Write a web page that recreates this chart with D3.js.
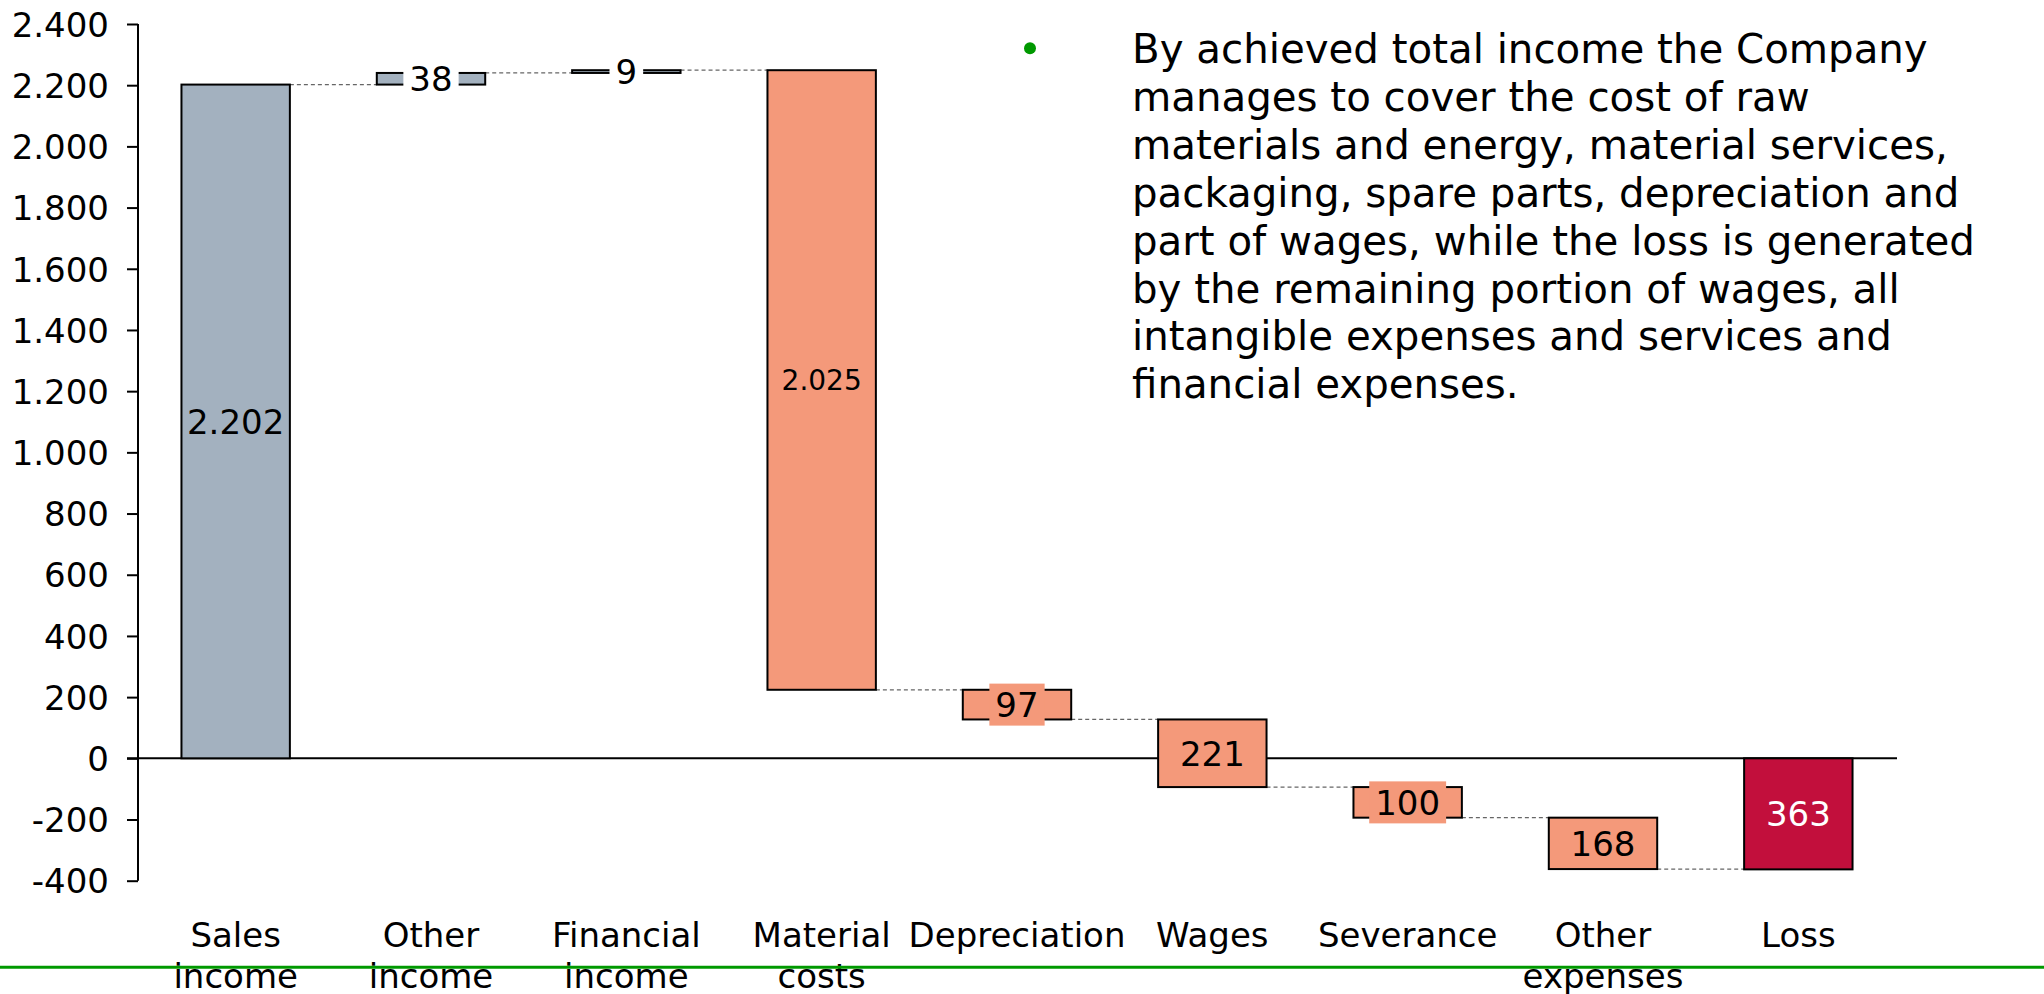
<!DOCTYPE html>
<html>
<head>
<meta charset="utf-8">
<script src="https://cdn.jsdelivr.net/npm/d3@7/dist/d3.min.js"></script>
<style>
  html, body { margin: 0; padding: 0; background: #fff; }
  svg { display: block; }
  text { font-family: "DejaVu Sans", Verdana, sans-serif; }
</style>
</head>
<body>
<svg id="chart" width="2044" height="994"></svg>
<script>
// ---- data ----
const categories = ["Sales income", "Other income", "Financial income", "Material costs",
  "Depreciation", "Wages", "Severance", "Other expenses", "Loss"];
const values = [2202, 38, 9, -2025, -97, -221, -100, -168, -363];
const kinds = ["total", "delta", "delta", "delta", "delta", "delta", "delta", "delta", "total"];
const yTicks = [-400, -200, 0, 200, 400, 600, 800, 1000, 1200, 1400, 1600, 1800, 2000, 2200, 2400];
const noteLines = [
  "By achieved total income the Company",
  "manages to cover the cost of raw",
  "materials and energy, material services,",
  "packaging, spare parts, depreciation and",
  "part of wages, while the loss is generated",
  "by the remaining portion of wages, all",
  "intangible expenses and services and",
  "financial expenses."
];

// ---- styles ----
const fills = ["#a3b1bf", "#a3b1bf", "#a3b1bf", "#f4997a", "#f4997a", "#f4997a", "#f4997a", "#f4997a", "#c20f3c"];
const labelBg = ["none", "#ffffff", "#ffffff", "none", "#f4997a", "none", "#f4997a", "none", "none"];
const labelColor = ["#000", "#000", "#000", "#000", "#000", "#000", "#000", "#000", "#fff"];
const labelSize = [34, 34, 34, 28, 34, 34, 34, 34, 34];
const labelFamily = ["DejaVu Sans", "DejaVu Sans", "DejaVu Sans", "DejaVu Sans Condensed", "DejaVu Sans",
  "DejaVu Sans", "DejaVu Sans", "DejaVu Sans", "DejaVu Sans"];

const loc = d3.formatLocale({ decimal: ",", thousands: ".", grouping: [3], currency: ["", ""], minus: "-" });
const fmt = loc.format(",d");

const svg = d3.select("#chart");

// waterfall segments
let run = 0;
const segs = values.map((v, i) => {
  let y0, y1;
  if (kinds[i] === "total") { y0 = 0; y1 = v; run = v; }
  else { y0 = run; y1 = run + v; run = y1; }
  return { cat: categories[i], v, y0, y1, i };
});

const x = d3.scaleBand().domain(categories).range([138, 1896]).paddingInner(0.445).paddingOuter(0.2225);
const y = d3.scaleLinear().domain([-400, 2400]).range([880.7, 24]);

// y axis
const yAxis = d3.axisLeft(y).tickValues(yTicks).tickFormat(fmt).tickSize(11).tickPadding(18);
const gy = svg.append("g").attr("transform", "translate(138,0)").call(yAxis);
gy.select(".domain").attr("stroke", "#000").attr("stroke-width", 2).attr("d", `M0,${y(2400)}V${y(-400)}`);
gy.selectAll(".tick line").attr("stroke", "#000").attr("stroke-width", 2);
gy.selectAll(".tick text").attr("font-size", 34).attr("fill", "#000")
  .attr("font-family", "DejaVu Sans").attr("dy", "0.36em");

// zero line
svg.append("line").attr("x1", 127).attr("x2", 1897).attr("y1", y(0)).attr("y2", y(0))
  .attr("stroke", "#000").attr("stroke-width", 2);

// connectors
for (let i = 0; i < segs.length - 1; i++) {
  const lvl = segs[i].y1;
  svg.append("line")
    .attr("x1", x(segs[i].cat) + x.bandwidth()).attr("x2", x(segs[i + 1].cat))
    .attr("y1", y(lvl)).attr("y2", y(lvl))
    .attr("stroke", "#666").attr("stroke-width", 1.2).attr("stroke-dasharray", "4,3");
}

// bars
svg.append("g").selectAll("rect").data(segs).join("rect")
  .attr("x", d => x(d.cat))
  .attr("width", x.bandwidth())
  .attr("y", d => y(Math.max(d.y0, d.y1)))
  .attr("height", d => Math.abs(y(d.y0) - y(d.y1)))
  .attr("fill", d => fills[d.i])
  .attr("stroke", "#000").attr("stroke-width", 2);

// value labels
const lg = svg.append("g");
segs.forEach(d => {
  const cx = x(d.cat) + x.bandwidth() / 2;
  const cy = (y(d.y0) + y(d.y1)) / 2;
  const fs = labelSize[d.i];
  const g = lg.append("g");
  const bg = g.append("rect");
  const t = g.append("text").text(fmt(Math.abs(d.v)))
    .attr("x", cx).attr("y", cy + fs * 0.364)
    .attr("text-anchor", "middle").attr("font-size", fs)
    .attr("font-family", labelFamily[d.i]).attr("fill", labelColor[d.i]);
  const w = t.node().getComputedTextLength();
  bg.attr("x", cx - w / 2 - 6).attr("width", w + 12)
    .attr("y", cy - 21).attr("height", 42).attr("fill", labelBg[d.i]);
});

// category labels
const catG = svg.append("g");
categories.forEach(c => {
  const words = c.split(" ");
  const t = catG.append("text").attr("text-anchor", "middle").attr("font-size", 34).attr("fill", "#000");
  words.forEach((wd, k) => {
    t.append("tspan").attr("x", x(c) + x.bandwidth() / 2).attr("y", 946.7 + k * 41).text(wd);
  });
});

// green rule
svg.append("line").attr("x1", 0).attr("x2", 2044).attr("y1", 967.3).attr("y2", 967.3)
  .attr("stroke", "#009900").attr("stroke-width", 3);

// note
svg.append("circle").attr("cx", 1030).attr("cy", 48.3).attr("r", 6).attr("fill", "#009900");
const note = svg.append("text").attr("font-size", 40.3).attr("fill", "#000");
noteLines.forEach((ln, k) => {
  note.append("tspan").attr("x", 1132).attr("y", 63.3 + k * 47.85).text(ln);
});
</script>
</body>
</html>
